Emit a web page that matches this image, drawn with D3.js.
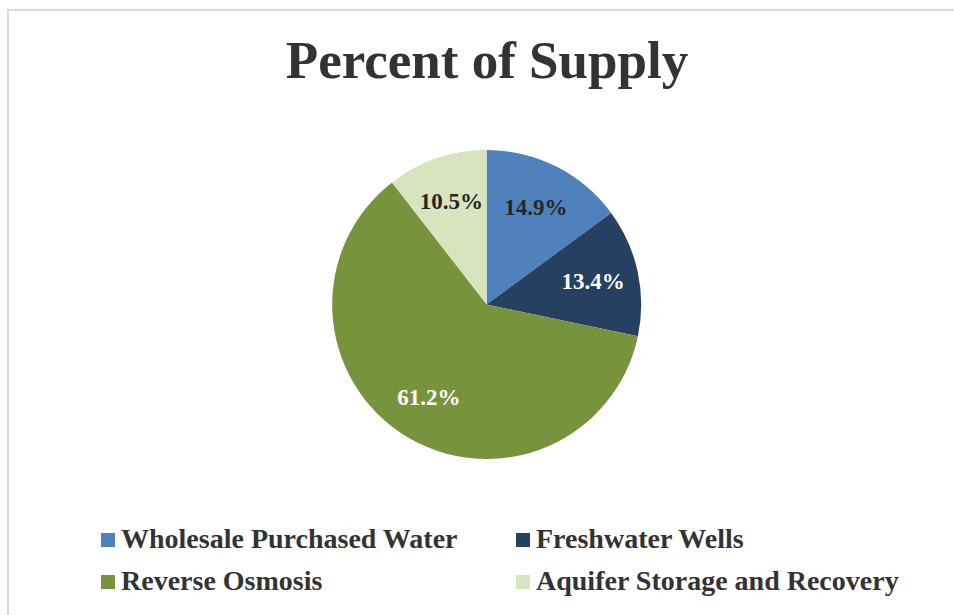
<!DOCTYPE html>
<html>
<head>
<meta charset="utf-8">
<script src="https://cdn.jsdelivr.net/npm/d3@7"></script>
<style>
  html, body { margin: 0; padding: 0; background: #fff; }
  svg { display: block; }
</style>
</head>
<body>
<svg id="chart" width="954" height="615"></svg>
<script>
const title = "Percent of Supply";
const categories = ["Wholesale Purchased Water", "Freshwater Wells", "Reverse Osmosis", "Aquifer Storage and Recovery"];
const values = [14.9, 13.4, 61.2, 10.5];
const colors = ["#4F81BD", "#254061", "#77933C", "#D7E4BD"];
const labelColors = ["#262626", "#ffffff", "#ffffff", "#262626"];

const svg = d3.select("#chart");
const W = 954, H = 615;

// chart border
svg.append("rect")
  .attr("x", 8).attr("y", 10)
  .attr("width", W + 10).attr("height", H + 10)
  .attr("fill", "#fff")
  .attr("stroke", "#d9d9d9").attr("stroke-width", 2);

// title
svg.append("text")
  .attr("x", 487).attr("y", 78)
  .attr("text-anchor", "middle")
  .attr("font-family", "'Liberation Serif', 'Times New Roman', serif")
  .attr("font-weight", "bold")
  .attr("font-size", 53)
  .attr("fill", "#333333")
  .text(title);

const data = categories.map((c, i) => ({ name: c, value: values[i], color: colors[i], lc: labelColors[i] }));

const cx = 486.7, cy = 304.5, R = 154.5;
const pie = d3.pie().value(d => d.value).sort(null);
const arc = d3.arc().innerRadius(0).outerRadius(R);
const labelArc = d3.arc().innerRadius(109).outerRadius(109);

const g = svg.append("g").attr("transform", `translate(${cx},${cy})`);
const arcs = pie(data);

g.selectAll("path")
  .data(arcs)
  .enter().append("path")
  .attr("d", arc)
  .attr("fill", d => d.data.color);

g.selectAll("text.lbl")
  .data(arcs)
  .enter().append("text")
  .attr("class", "lbl")
  .attr("transform", d => `translate(${labelArc.centroid(d)})`)
  .attr("text-anchor", "middle")
  .attr("dy", "0.35em")
  .attr("font-family", "'Liberation Serif', 'Times New Roman', serif")
  .attr("font-weight", "bold")
  .attr("font-size", 23)
  .attr("fill", d => d.data.lc)
  .text(d => d3.format(".1f")(d.data.value) + "%");

// legend
const legX = [101, 516], legY = [548, 590];
const leg = svg.append("g");
data.forEach((d, i) => {
  const col = i % 2, row = Math.floor(i / 2);
  const x = legX[col], y = legY[row];
  leg.append("rect")
    .attr("x", x).attr("y", y - 15)
    .attr("width", 14).attr("height", 14)
    .attr("fill", d.color);
  leg.append("text")
    .attr("x", x + 20).attr("y", y)
    .attr("font-family", "'Liberation Serif', 'Times New Roman', serif")
    .attr("font-weight", "bold")
    .attr("font-size", 28)
    .attr("fill", "#333333")
    .text(d.name);
});
</script>
</body>
</html>
